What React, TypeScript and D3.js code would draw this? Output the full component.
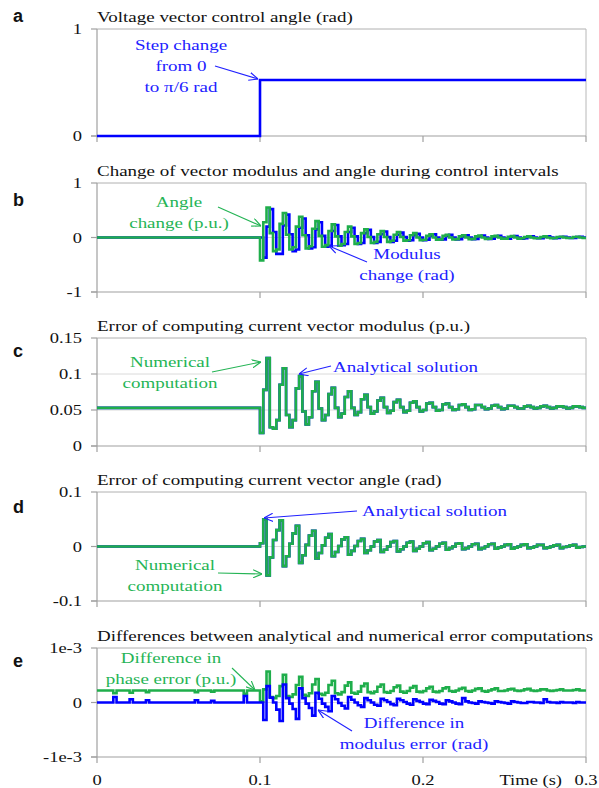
import React, { useEffect, useRef } from "react";
import * as d3 from "d3";

// time axis (s)
const xTicks = [0, 0.1, 0.2, 0.3];
const stepTime = 0.1;
const controlInterval = 0.002;

// a: control angle before / after the step
const angleBefore = 0;
const angleAfter = Math.PI / 6;

// b: change per control interval, from t = 0.1 s
const angleChange = [
  -0.42, 0.28, 0.55, 0.08, -0.25,
  -0.22, 0.25, 0.45, 0.05, -0.22,
  -0.18, 0.2, 0.38, 0.04, -0.2,
  -0.16, 0.16, 0.3, 0.03, -0.17,
  -0.14, 0.12, 0.24, 0.02, -0.15,
  -0.12, 0.1, 0.2, 0.02, -0.12,
  -0.1, 0.08, 0.15, 0.01, -0.1,
  -0.08, 0.06, 0.12, 0.01, -0.08,
  -0.06, 0.05, 0.1, 0.01, -0.06,
  -0.05, 0.04, 0.08, 0.0, -0.05,
  -0.04, 0.03, 0.06, 0.0, -0.04,
  -0.035, 0.03, 0.05, 0.0, -0.035,
  -0.03, 0.02, 0.04, 0.0, -0.03,
  -0.025, 0.02, 0.035, 0.0, -0.025,
  -0.02, 0.02, 0.03, 0.0, -0.02,
  -0.02, 0.015, 0.025, 0.0, -0.02,
  -0.015, 0.01, 0.02, 0.0, -0.015,
  -0.015, 0.01, 0.02, 0.0, -0.015,
  -0.01, 0.01, 0.015, 0.0, -0.01,
  -0.01, 0.01, 0.015, 0.0, -0.01,
];
const modulusChange = [
  0.0,
  -0.37, 0.2, 0.52, 0.1, -0.3,
  -0.3, 0.22, 0.42, 0.06, -0.25,
  -0.22, 0.18, 0.35, 0.04, -0.2,
  -0.18, 0.15, 0.28, 0.03, -0.17,
  -0.15, 0.12, 0.23, 0.02, -0.14,
  -0.12, 0.1, 0.18, 0.02, -0.12,
  -0.1, 0.08, 0.14, 0.01, -0.1,
  -0.08, 0.06, 0.11, 0.01, -0.08,
  -0.06, 0.05, 0.09, 0.01, -0.06,
  -0.05, 0.04, 0.07, 0.0, -0.05,
  -0.04, 0.03, 0.06, 0.0, -0.04,
  -0.035, 0.03, 0.05, 0.0, -0.035,
  -0.03, 0.02, 0.04, 0.0, -0.03,
  -0.025, 0.02, 0.035, 0.0, -0.025,
  -0.02, 0.02, 0.03, 0.0, -0.02,
  -0.02, 0.015, 0.025, 0.0, -0.02,
  -0.015, 0.01, 0.02, 0.0, -0.015,
  -0.015, 0.01, 0.02, 0.0, -0.015,
  -0.01, 0.01, 0.015, 0.0, -0.01,
  -0.01, 0.01, 0.015, 0.0,
];

// c: modulus error (p.u.)
const modulusErrorBefore = 0.053;
const modulusError = [
  0.018, 0.078,
  0.122, 0.026, 0.024, 0.036, 0.085,
  0.108, 0.043, 0.026, 0.036, 0.08,
  0.097, 0.048, 0.03, 0.04, 0.076,
  0.089, 0.052, 0.036, 0.043, 0.072,
  0.081, 0.053, 0.04, 0.045, 0.068,
  0.076, 0.053, 0.043, 0.047, 0.065,
  0.071, 0.054, 0.045, 0.048, 0.063,
  0.067, 0.054, 0.046, 0.049, 0.061,
  0.064, 0.054, 0.047, 0.049, 0.06,
  0.062, 0.054, 0.048, 0.05, 0.059,
  0.06, 0.054, 0.049, 0.05, 0.058,
  0.059, 0.054, 0.05, 0.051, 0.057,
  0.058, 0.054, 0.05, 0.051, 0.057,
  0.057, 0.054, 0.051, 0.052, 0.056,
  0.057, 0.054, 0.051, 0.052, 0.056,
  0.056, 0.054, 0.052, 0.052, 0.055,
  0.056, 0.054, 0.052, 0.053, 0.055,
  0.056, 0.054, 0.052, 0.053, 0.055,
  0.055, 0.054, 0.052, 0.053, 0.055,
  0.055, 0.054, 0.053,
];

// d: angle error (rad)
const angleErrorBefore = 0;
const angleError = [
  0.006,
  0.05, -0.053, -0.02, 0.012, 0.03,
  0.048, -0.036, -0.018, 0.005, 0.024,
  0.038, -0.03, -0.016, 0.003, 0.02,
  0.029, -0.022, -0.012, 0.002, 0.016,
  0.023, -0.018, -0.01, 0.001, 0.013,
  0.017, -0.015, -0.008, 0.001, 0.01,
  0.014, -0.012, -0.007, 0.0, 0.009,
  0.012, -0.01, -0.006, 0.0, 0.008,
  0.01, -0.009, -0.005, 0.0, 0.007,
  0.009, -0.008, -0.004, 0.0, 0.006,
  0.008, -0.007, -0.004, 0.0, 0.005,
  0.007, -0.006, -0.003, 0.0, 0.005,
  0.006, -0.005, -0.003, 0.0, 0.004,
  0.005, -0.005, -0.003, 0.0, 0.004,
  0.005, -0.004, -0.002, 0.0, 0.003,
  0.004, -0.004, -0.002, 0.0, 0.003,
  0.004, -0.003, -0.002, 0.0, 0.003,
  0.003, -0.003, -0.002, 0.0, 0.002,
  0.003, -0.003, -0.001, 0.0, 0.002,
  0.003, -0.002, -0.001, 0.0,
];

// e: differences between analytical and numerical errors
const phaseDiffBefore = 0.00022;
const modulusDiffBefore = 0;
const blipTimes = [0.01, 0.02, 0.03, 0.06, 0.07, 0.09];
const phaseDiffBlips = [0.00017, 0.00018, 0.00019, 0.00019, 0.0002, 0.00016];
const modulusDiffBlips = [0.0001, 0.00006, 0.00004, 0.00004, 0.00003, 0.00012];
const phaseDiff = [
  0.00002, 0.00024,
  0.00057, 0.0001, 0.00008, 0.00012, 0.0003,
  0.00051, 0.00012, 0.0001, 0.00015, 0.00032,
  0.00047, 0.00014, 0.00012, 0.00017, 0.00033,
  0.00043, 0.00016, 0.00014, 0.00018, 0.00032,
  0.0004, 0.00017, 0.00015, 0.00019, 0.00031,
  0.00037, 0.00018, 0.00016, 0.0002, 0.0003,
  0.00035, 0.00019, 0.00017, 0.0002, 0.00029,
  0.00033, 0.00019, 0.00018, 0.00021, 0.00028,
  0.00031, 0.0002, 0.00018, 0.00021, 0.00027,
  0.0003, 0.0002, 0.00019, 0.00021, 0.00026,
  0.00029, 0.0002, 0.00019, 0.00021, 0.00026,
  0.00028, 0.00021, 0.0002, 0.00022, 0.00025,
  0.00027, 0.00021, 0.0002, 0.00022, 0.00025,
  0.00026, 0.00021, 0.0002, 0.00022, 0.00024,
  0.00026, 0.00021, 0.00021, 0.00022, 0.00024,
  0.00025, 0.00022, 0.00021, 0.00022, 0.00024,
  0.00025, 0.00022, 0.00021, 0.00022, 0.00024,
  0.00024, 0.00022, 0.00021, 0.00022, 0.00023,
  0.00024, 0.00022, 0.00022, 0.00022, 0.00023,
  0.00024, 0.00022, 0.00022,
];
const modulusDiff = [
  0.0, -0.00032,
  0.0003, 0.00009, 0.0, -0.00013, -0.00034,
  0.00033, 0.00008, -0.00002, -0.00012, -0.0003,
  0.00026, 0.00008, -0.00002, -0.0001, -0.00024,
  0.00018, 0.00007, -0.00002, -0.00008, -0.00016,
  0.00012, 0.00006, -0.00001, -0.00006, -0.00011,
  0.0001, 0.00005, 0.0, -0.00005, -0.00008,
  0.00008, 0.00004, 0.0, -0.00004, -0.00006,
  0.00007, 0.00004, 0.00001, -0.00003, -0.00005,
  0.00007, 0.00004, 0.00001, -0.00002, -0.00004,
  0.00006, 0.00003, 0.00001, -0.00002, -0.00003,
  0.00005, 0.00003, 0.00001, -0.00002, -0.00003,
  0.00004, 0.00002, 0.0, -0.00002, -0.00003,
  0.00008, 0.00002, 0.0, -0.00001, -0.00002,
  0.00002, 0.00001, 0.0, -0.00001, -0.00002,
  0.00002, 0.00001, 0.0, -0.00001, -0.00002,
  0.00002, 0.00001, 0.0, -0.00001, -0.00001,
  0.00001, 0.00001, 0.0, 0.0, -0.00001,
  0.00006, 0.00001, 0.0, 0.0, -0.00001,
  0.00001, 0.0, 0.0, 0.0, -0.00001,
  0.00001, 0.0, 0.0,
];

const BLUE = "#0000ff";
const GREEN = "#1fae4b";
const BLUE_TEXT = "#2121ff";
const GREEN_TEXT = "#25b455";
const SERIF = "'Liberation Serif', 'Times New Roman', serif";

// builds [t, v] points for a step curve
function stepSeries(before: number, post: number[], blips?: number[], blipValues?: number[]) {
  const pts: [number, number][] = [[0, before]];
  if (blips && blipValues) {
    blips.forEach((t, i) => {
      pts.push([t, blipValues[i]]);
      pts.push([t + controlInterval, before]);
    });
  }
  post.forEach((v, i) => pts.push([stepTime + i * controlInterval, v]));
  pts.push([0.3, post[post.length - 1]]);
  return pts;
}

const panels = [
  {
    letter: "a", letterY: 22, top: 29, bottom: 136, domain: [0, 1], ticks: [0, 1], labels: ["0", "1"],
    title: "Voltage vector control angle (rad)",
    series: [{ color: BLUE, pts: [[0, angleBefore], [stepTime, angleAfter], [0.3, angleAfter]] as [number, number][] }],
    notes: [
      { color: BLUE_TEXT, x: 181, lines: ["Step change", "from 0", "to \u03c0/6 rad"], y: 50, arrow: [215, 66, 258, 79] },
    ],
  },
  {
    letter: "b", letterY: 206, top: 183, bottom: 292, domain: [-1, 1], ticks: [-1, 0, 1], labels: ["-1", "0", "1"],
    title: "Change of vector modulus and angle during control intervals",
    series: [
      { color: BLUE, pts: stepSeries(0, modulusChange) },
      { color: GREEN, pts: stepSeries(0, angleChange) },
    ],
    notes: [
      { color: GREEN_TEXT, x: 179, lines: ["Angle", "change (p.u.)"], y: 207, arrow: [218, 207, 261, 226] },
      { color: BLUE_TEXT, x: 407, lines: ["Modulus", "change (rad)"], y: 259, arrow: [367, 262, 329, 246] },
    ],
  },
  {
    letter: "c", letterY: 357, top: 338, bottom: 446, domain: [0, 0.15], ticks: [0, 0.05, 0.1, 0.15], labels: ["0", "0.05", "0.1", "0.15"],
    title: "Error of computing current vector modulus (p.u.)",
    series: [
      { color: BLUE, pts: stepSeries(modulusErrorBefore, modulusError) },
      { color: GREEN, pts: stepSeries(modulusErrorBefore, modulusError) },
    ],
    notes: [
      { color: GREEN_TEXT, x: 170, lines: ["Numerical", "computation"], y: 367, arrow: [212, 372, 261, 362] },
      { color: BLUE_TEXT, x: 333, anchor: "start", lines: ["Analytical solution"], y: 372, arrow: [331, 366, 299, 374] },
    ],
  },
  {
    letter: "d", letterY: 513, top: 492, bottom: 601, domain: [-0.1, 0.1], ticks: [-0.1, 0, 0.1], labels: ["-0.1", "0", "0.1"],
    title: "Error of computing current vector angle (rad)",
    series: [
      { color: BLUE, pts: stepSeries(angleErrorBefore, angleError) },
      { color: GREEN, pts: stepSeries(angleErrorBefore, angleError) },
    ],
    notes: [
      { color: BLUE_TEXT, x: 362, anchor: "start", lines: ["Analytical solution"], y: 516, arrow: [357, 511, 264, 518] },
      { color: GREEN_TEXT, x: 175, lines: ["Numerical", "computation"], y: 570, arrow: [218, 573, 262, 574] },
    ],
  },
  {
    letter: "e", letterY: 667, top: 648, bottom: 757, domain: [-0.001, 0.001], ticks: [-0.001, 0, 0.001], labels: ["-1e-3", "0", "1e-3"],
    title: "Differences between analytical and numerical error computations",
    series: [
      { color: GREEN, pts: stepSeries(phaseDiffBefore, phaseDiff, blipTimes, phaseDiffBlips) },
      { color: BLUE, pts: stepSeries(modulusDiffBefore, modulusDiff, blipTimes, modulusDiffBlips) },
    ],
    notes: [
      { color: GREEN_TEXT, x: 171, lines: ["Difference in", "phase error (p.u.)"], y: 663, arrow: [232, 668, 255, 690] },
      { color: BLUE_TEXT, x: 414, lines: ["Difference in", "modulus error (rad)"], y: 728, arrow: [352, 731, 318, 710] },
    ],
  },
];

function serif(g: any, x: number, y: number, str: string, size: number, color: string, anchor = "start") {
  g.append("text")
    .attr("transform", `translate(${x},${y}) scale(1,0.8)`)
    .attr("text-anchor", anchor)
    .attr("font-family", SERIF)
    .attr("font-size", size)
    .attr("fill", color)
    .text(str);
}

export default function App() {
  const ref = useRef<SVGSVGElement>(null);

  useEffect(() => {
    const svg = d3.select(ref.current);
    svg.selectAll("*").remove();

    const defs = svg.append("defs");
    [["arrowBlue", BLUE_TEXT], ["arrowGreen", GREEN_TEXT]].forEach(([id, c]) => {
      defs.append("marker")
        .attr("id", id)
        .attr("viewBox", "0 0 10 10")
        .attr("refX", 10)
        .attr("refY", 5)
        .attr("markerWidth", 9)
        .attr("markerHeight", 9)
        .attr("markerUnits", "userSpaceOnUse")
        .attr("orient", "auto")
        .append("path")
        .attr("d", "M0,0.5 L10,5 L0,9.5")
        .attr("fill", "none")
        .attr("stroke", c)
        .attr("stroke-width", 1.3);
    });

    const x = d3.scaleLinear().domain([0, 0.3]).range([97, 586]);

    panels.forEach((p) => {
      const y = d3.scaleLinear().domain(p.domain).range([p.bottom, p.top]);
      const g = svg.append("g");

      // gridlines
      p.ticks.slice(1).forEach((t) => {
        g.append("line")
          .attr("x1", x(0)).attr("x2", x(0.3))
          .attr("y1", y(t)).attr("y2", y(t))
          .attr("stroke", t === p.domain[1] ? "#b0b0b0" : "#dadada")
          .attr("stroke-width", 1);
      });
      // right border
      g.append("line")
        .attr("x1", x(0.3)).attr("x2", x(0.3))
        .attr("y1", p.top).attr("y2", p.bottom)
        .attr("stroke", "#b8b8b8");
      // axes
      g.append("line")
        .attr("x1", x(0)).attr("x2", x(0))
        .attr("y1", p.top).attr("y2", p.bottom)
        .attr("stroke", "#a0a0a0").attr("stroke-width", 1.2);
      g.append("line")
        .attr("x1", x(0) - 6).attr("x2", x(0.3))
        .attr("y1", p.bottom).attr("y2", p.bottom)
        .attr("stroke", "#a0a0a0").attr("stroke-width", 1.2);
      // y ticks
      p.ticks.forEach((t, i) => {
        g.append("line")
          .attr("x1", x(0) - 6).attr("x2", x(0))
          .attr("y1", y(t)).attr("y2", y(t))
          .attr("stroke", "#a0a0a0").attr("stroke-width", 1.2);
        serif(g, 82, y(t) + 5, p.labels[i], 18.5, "#111", "end");
      });
      // x ticks
      xTicks.forEach((t) => {
        g.append("line")
          .attr("x1", x(t)).attr("x2", x(t))
          .attr("y1", p.bottom).attr("y2", p.bottom + 6)
          .attr("stroke", "#a0a0a0").attr("stroke-width", 1.2);
      });

      // title + panel letter
      serif(g, 97, p.top - 7, p.title, 19, "#111");
      g.append("text")
        .attr("x", 13)
        .attr("y", p.letterY)
        .attr("font-family", "'Liberation Sans', Arial, sans-serif")
        .attr("font-weight", "bold")
        .attr("font-size", 18)
        .attr("fill", "#111")
        .text(p.letter);

      // curves
      const line = d3.line<[number, number]>()
        .x((d) => x(d[0]))
        .y((d) => y(d[1]))
        .curve(d3.curveStepAfter);
      p.series.forEach((s) => {
        g.append("path")
          .attr("d", line(s.pts))
          .attr("fill", "none")
          .attr("stroke", s.color)
          .attr("stroke-width", 2.6)
          .attr("stroke-linejoin", "miter");
      });

      // annotations
      p.notes.forEach((n: any) => {
        n.lines.forEach((l: string, i: number) => {
          serif(g, n.x, n.y + i * 21, l, 19, n.color, n.anchor || "middle");
        });
        const [x1, y1, x2, y2] = n.arrow;
        g.append("line")
          .attr("x1", x1).attr("y1", y1)
          .attr("x2", x2).attr("y2", y2)
          .attr("stroke", n.color)
          .attr("stroke-width", 1.1)
          .attr("marker-end", `url(#${n.color === BLUE_TEXT ? "arrowBlue" : "arrowGreen"})`);
      });
    });

    // x tick labels on the last panel
    const last = panels[panels.length - 1];
    const xg = svg.append("g");
    xTicks.forEach((t) => {
      serif(xg, x(t), last.bottom + 28, String(t), 18.5, "#111", "middle");
    });
    serif(xg, 562, last.bottom + 28, "Time (s)", 18.5, "#111", "end");
  }, []);

  return (
    <div style={{ position: "absolute", left: 0, top: 0, background: "#fff" }}>
      <svg ref={ref} width={599} height={788} style={{ display: "block" }} />
    </div>
  );
}
